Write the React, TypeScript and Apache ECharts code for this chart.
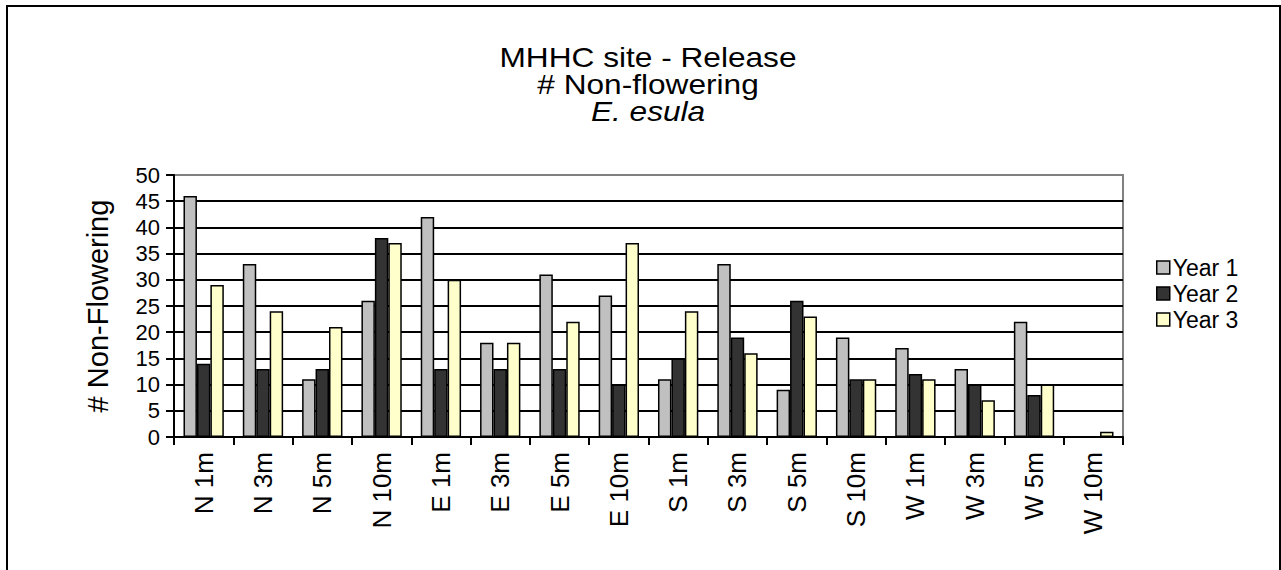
import React, { useEffect, useRef } from "react";
import * as echarts from "echarts";

const categories = ["N 1m", "N 3m", "N 5m", "N 10m", "E 1m", "E 3m", "E 5m", "E 10m", "S 1m", "S 3m", "S 5m", "S 10m", "W 1m", "W 3m", "W 5m", "W 10m"];
const year1 = [46, 33, 11, 26, 42, 18, 31, 27, 11, 33, 9, 19, 17, 13, 22, 0];
const year2 = [14, 13, 13, 38, 13, 13, 13, 10, 15, 19, 26, 11, 12, 10, 8, 0];
const year3 = [29, 24, 21, 37, 30, 18, 22, 37, 24, 16, 23, 11, 11, 7, 10, 1];
const seriesNames = ["Year 1", "Year 2", "Year 3"];
const seriesColors = ["#C0C0C0", "#333333", "#FFFFCC"];
const titleLines = ["MHHC site - Release", "# Non-flowering", "E. esula"];

const FONT = "'Liberation Sans', Arial, sans-serif";

export default function App() {
  const ref = useRef<HTMLDivElement>(null);
  useEffect(() => {
    if (!ref.current) return;
    const chart = echarts.init(ref.current, undefined, { renderer: "svg" });
    const data = [year1, year2, year3];
    const splitColors = Array.from({ length: 11 }, (_, i) => (i === 10 ? "#808080" : "#000000"));
    chart.setOption({
      animation: false,
      backgroundColor: "#ffffff",
      textStyle: { fontFamily: FONT, color: "#000" },
      graphic: [
        {
          type: "rect",
          shape: { x: 7, y: 6, width: 1273, height: 620 },
          style: { fill: "none", stroke: "#000", lineWidth: 2 },
          silent: true,
        },
        ...titleLines.map((t, i) => ({
          type: "text",
          x: 648,
          y: 57 + i * 27,
          scaleX: 1.13,
          silent: true,
          style: {
            text: t,
            font: `${i === 2 ? "italic " : ""}normal 28px ${FONT}`,
            fill: "#000",
            textAlign: "center",
            textVerticalAlign: "middle",
          },
        })),
      ],
      legend: {
        orient: "vertical",
        left: 1151,
        top: 251,
        itemWidth: 13,
        itemHeight: 13,
        itemGap: 3,
        icon: "rect",
        data: seriesNames,
        textStyle: { fontSize: 23, lineHeight: 23, fontFamily: FONT, color: "#000", padding: [0, 0, 0, -2] },
        itemStyle: { borderColor: "#000", borderWidth: 1.5 },
      },
      grid: {
        left: 174,
        top: 175,
        width: 949,
        height: 262,
        show: true,
        borderColor: "#808080",
        borderWidth: 2,
        backgroundColor: "transparent",
      },
      xAxis: {
        type: "category",
        data: categories,
        axisLine: { lineStyle: { color: "#000", width: 2 } },
        axisTick: { show: true, length: 8, lineStyle: { color: "#000", width: 2 } },
        axisLabel: { rotate: 90, fontSize: 26, margin: 15, color: "#000", fontFamily: FONT },
      },
      yAxis: {
        type: "value",
        min: 0,
        max: 50,
        interval: 5,
        name: "# Non-Flowering",
        nameLocation: "middle",
        nameGap: 62,
        nameRotate: 90,
        nameTextStyle: { fontSize: 29, fontFamily: FONT, color: "#000" },
        axisLine: { show: true, lineStyle: { color: "#000", width: 2 } },
        axisTick: { show: true, length: 8, lineStyle: { color: "#000", width: 2 } },
        axisLabel: { fontSize: 22, margin: 14, color: "#000", fontFamily: FONT },
        splitLine: { show: true, lineStyle: { color: splitColors, width: 2 } },
      },
      series: seriesNames.map((name, i) => ({
        name,
        type: "bar",
        data: data[i],
        barGap: "0%",
        barCategoryGap: "32%",
        itemStyle: { color: seriesColors[i], borderColor: "#000", borderWidth: 1.5 },
      })),
    });
    return () => chart.dispose();
  }, []);
  return (
    <div
      ref={ref}
      style={{ position: "fixed", left: 0, top: 0, width: 1281, height: 570, background: "#fff" }}
    />
  );
}
